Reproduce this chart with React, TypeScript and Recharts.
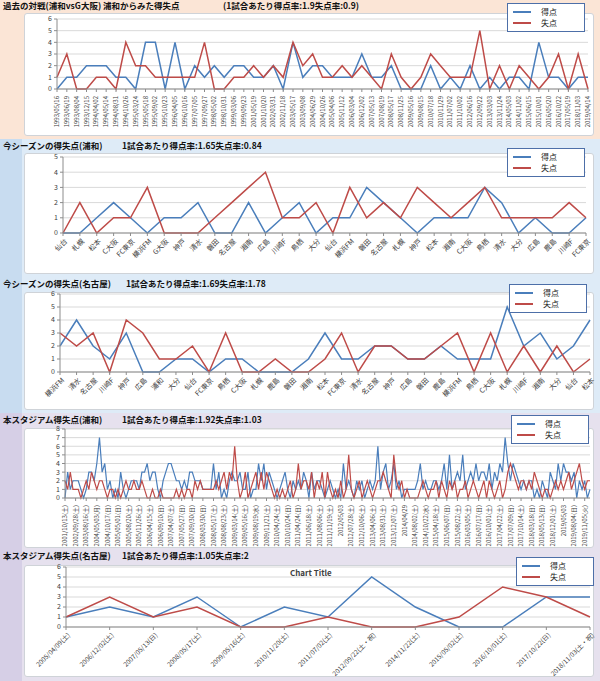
import { LineChart, Line, XAxis, YAxis, CartesianGrid } from "recharts";

const FONT = '"Noto Sans CJK JP", "Noto Sans", sans-serif';
const BLUE = "#4a7ebb";
const RED = "#be4b48";
const GRID = "#d9d9d9";
const AXIS = "#8c8c8c";

const seriesNames = ["得点", "失点"];

// 過去の対戦(浦和vsG大阪)
const h2hDates = [
  "1993/05/16", "1993/06/19", "1993/08/04", "1993/12/15", "1994/04/02", "1994/05/14", "1994/08/31",
  "1994/10/26", "1995/03/24", "1995/05/18", "1995/09/02", "1995/10/23", "1996/04/05", "1996/10/16",
  "1997/07/05", "1997/09/27", "1998/05/02", "1998/10/31", "1999/03/06", "1999/09/23", "2001/05/19",
  "2001/10/20", "2002/03/31", "2002/11/18", "2003/05/17", "2003/09/08", "2004/06/29", "2004/10/26",
  "2005/04/06", "2005/11/12", "2006/03/04", "2006/12/02", "2007/05/13", "2007/08/19", "2008/05/17",
  "2008/11/25", "2009/05/16", "2009/08/15", "2010/07/18", "2010/11/29", "2011/07/02", "2011/10/02",
  "2012/06/16", "2012/09/22", "2013/03/03", "2013/11/24", "2014/05/03", "2014/11/02", "2015/06/15",
  "2015/10/01", "2016/05/20", "2016/10/22", "2017/05/19", "2018/11/03", "2019/04/14",
];
const h2hFor = [
  0, 1, 1, 2, 2, 2, 1, 1, 0, 4, 4, 0, 4, 0, 2, 1, 2, 1, 2, 2, 1, 1, 2, 0, 4, 1, 2, 2,
  1, 1, 1, 3, 1, 1, 2, 0, 0, 0, 2, 0, 1, 0, 2, 0, 1, 0, 1, 1, 0, 4, 1, 1, 0, 1, 1,
];
const h2hAgainst = [
  1, 3, 0, 0, 1, 1, 0, 4, 2, 2, 1, 1, 1, 1, 1, 4, 0, 0, 1, 1, 2, 1, 2, 1, 4, 2, 3, 1,
  1, 2, 1, 2, 1, 0, 3, 1, 0, 1, 3, 2, 1, 1, 1, 5, 0, 2, 0, 2, 1, 0, 1, 3, 0, 3, 0,
];

// 今シーズンの得失点(浦和)
const urawaOpp = [
  "仙台", "札幌", "松本", "C大阪", "FC東京", "横浜FM", "G大阪", "神戸", "清水", "磐田", "名古屋",
  "湘南", "広島", "川崎F", "鳥栖", "大分", "仙台", "横浜FM", "磐田", "名古屋", "札幌", "神戸",
  "松本", "湘南", "C大阪", "鳥栖", "清水", "大分", "広島", "鹿島", "川崎F", "FC東京",
];
const urawaFor = [0, 0, 1, 2, 1, 0, 1, 1, 2, 0, 0, 2, 0, 1, 2, 0, 1, 1, 3, 2, 1, 0, 1, 1, 1, 3, 2, 0, 1, 0, 0, 1];
const urawaAgainst = [0, 2, 0, 1, 1, 3, 0, 0, 0, 1, 2, 3, 4, 1, 1, 2, 0, 3, 1, 2, 1, 3, 2, 1, 2, 3, 1, 1, 1, 1, 2, 1];

// 今シーズンの得失点(名古屋)
const nagoyaOpp = [
  "横浜FM", "清水", "名古屋", "川崎F", "神戸", "広島", "浦和", "大分", "仙台", "FC東京", "鳥栖",
  "C大阪", "札幌", "鹿島", "磐田", "湘南", "松本", "FC東京", "清水", "名古屋", "神戸", "広島",
  "磐田", "鹿島", "横浜FM", "鳥栖", "C大阪", "札幌", "川崎F", "湘南", "大分", "仙台", "松本",
];
const nagoyaFor = [2, 4, 2, 1, 3, 0, 0, 1, 1, 0, 1, 1, 0, 0, 0, 1, 3, 1, 1, 2, 2, 1, 1, 2, 1, 1, 1, 5, 2, 3, 1, 2, 4];
const nagoyaAgainst = [3, 2, 3, 0, 4, 3, 1, 1, 2, 0, 3, 0, 0, 1, 0, 0, 1, 3, 0, 2, 2, 1, 1, 2, 3, 0, 3, 0, 2, 0, 2, 0, 1];

// 本スタジアム得失点(浦和) : tick labels every 4th match
const saitamaTicks = [
  "2001/10/13(土)", "2002/09/28(土)", "2003/08/16(土)", "2004/05/03(月)", "2004/10/17(日)",
  "2005/05/01(日)", "2005/08/20(土)", "2005/11/26(土)", "2006/04/15(土)", "2006/09/10(日)",
  "2007/04/07(土)", "2007/05/27(日)", "2007/09/30(日)", "2008/03/30(日)", "2008/05/17(土)",
  "2008/08/23(土)", "2009/03/14(土)", "2009/05/16(土)", "2009/08/19(水)", "2009/11/21(土)",
  "2010/04/24(土)", "2010/10/24(日)", "2011/04/24(日)", "2011/06/18(土)", "2011/08/06(土)",
  "2011/11/19(土)", "2012/05/03", "2012/07/28(土)", "2012/10/06(土)", "2013/04/06(土)",
  "2013/08/31(土)", "2013/12/07(土)", "2014/04/29", "2014/08/02(土)", "2014/10/22(水)",
  "2015/04/18(土)", "2015/06/07(日)", "2015/08/22(土)", "2016/03/05(土)", "2016/07/17(日)",
  "2016/10/01(土)", "2017/04/22(土)", "2017/07/09(日)", "2017/10/14(土)", "2018/03/18(日)",
  "2018/05/13(日)", "2018/12/01(土)", "2019/05/03", "2019/08/04(日)", "2019/11/05(火)",
];
const saitamaFor = [
  0, 3, 1, 2, 2, 2, 1, 0, 1, 3, 3, 2, 4,
  7, 3, 4, 1, 2, 0, 1, 0, 3, 1, 0, 1, 2,
  2, 2, 1, 3, 3, 4, 2, 3, 3, 1, 0, 2, 3,
  4, 4, 3, 2, 2, 1, 2, 1, 3, 3, 2, 2, 2,
  1, 1, 1, 1, 4, 1, 3, 0, 1, 0, 2, 3, 2,
  2, 3, 1, 1, 3, 0, 1, 1, 4, 2, 4, 1, 3,
  2, 1, 0, 1, 2, 3, 1, 0, 2, 1, 2, 1, 3,
  2, 0, 3, 1, 2, 2, 1, 0, 1, 2, 1, 0, 1,
  0, 4, 1, 2, 1, 0, 2, 1, 2, 0, 1, 2, 1,
  2, 6, 1, 3, 4, 1, 2, 4, 1, 2, 0, 1, 1,
  1, 1, 1, 2, 4, 1, 2, 1, 1, 2, 2, 1, 2,
  4, 1, 5, 1, 2, 3, 2, 5, 1, 2, 3, 2, 4,
  2, 3, 3, 2, 4, 1, 3, 2, 4, 3, 7, 4, 2,
  4, 3, 2, 1, 2, 1, 2, 2, 0, 1, 0, 2, 1,
  0, 3, 2, 1, 4, 2, 4, 3, 3, 2, 3, 0, 2,
  1, 2, 0, 1,
];
const saitamaAgainst = [
  2, 1, 3, 1, 1, 1, 0, 1, 2, 1, 3, 2, 1,
  2, 2, 1, 0, 1, 1, 0, 1, 0, 1, 2, 1, 1,
  2, 1, 1, 2, 1, 0, 0, 1, 0, 0, 1, 0, 0,
  0, 0, 0, 1, 0, 1, 0, 1, 1, 0, 2, 1, 2,
  1, 1, 1, 1, 1, 2, 1, 2, 3, 1, 3, 2, 6,
  2, 0, 1, 3, 0, 1, 2, 3, 1, 3, 1, 3, 2,
  1, 0, 1, 0, 1, 0, 1, 2, 0, 1, 4, 1, 2,
  2, 1, 3, 0, 2, 1, 3, 0, 3, 1, 0, 1, 0,
  2, 0, 1, 5, 1, 0, 1, 2, 0, 1, 2, 1, 0,
  1, 2, 2, 3, 2, 1, 0, 5, 2, 1, 2, 0, 1,
  0, 0, 0, 0, 1, 2, 1, 0, 1, 1, 2, 0, 2,
  1, 0, 2, 1, 2, 0, 1, 1, 2, 0, 1, 2, 1,
  0, 1, 2, 0, 2, 1, 0, 1, 2, 0, 1, 3, 4,
  3, 2, 1, 2, 2, 1, 2, 1, 3, 2, 1, 0, 1,
  1, 0, 1, 2, 1, 2, 1, 2, 3, 1, 2, 3, 4,
  2, 1, 2, 2,
];

// 本スタジアム得失点(名古屋)
const toyotaDates = [
  "2005/04/09(土)", "2006/12/02(土)", "2007/05/13(日)", "2008/05/17(土)", "2009/05/16(土)",
  "2010/11/20(土)", "2011/07/02(土)", "2012/09/22(土・祝)", "2014/11/22(土)", "2015/05/02(土)",
  "2016/10/01(土)", "2017/10/22(日)", "2018/11/03(土・祝)",
];
const toyotaFor = [1, 2, 1, 3, 0, 2, 1, 5, 2, 0, 0, 3, 3];
const toyotaAgainst = [1, 3, 1, 2, 0, 0, 1, 0, 0, 1, 4, 3, 1];

const toRows = (cats: (string | number)[], f: number[], a: number[]) =>
  cats.map((c, i) => ({ cat: c, tokuten: f[i], shitten: a[i] }));

function VTick(props: any) {
  const { x, y, payload, fmt } = props;
  const text = fmt ? fmt(payload.value) : payload.value;
  return (
    <g transform={`translate(${x},${y})`}>
      <text x={-2} y={0} dy="0.35em" transform="rotate(-90)" textAnchor="end"
        fontSize={6} fill="#404040" fontFamily={FONT}>{text}</text>
    </g>
  );
}

function DTick(props: any) {
  const { x, y, payload, size } = props;
  return (
    <g transform={`translate(${x + 3},${y + 2})`}>
      <text x={0} y={0} dy="0.35em" transform="rotate(-45)" textAnchor="end"
        fontSize={size} fill="#404040" fontFamily={FONT}>{payload.value}</text>
    </g>
  );
}

function Legend2({ left, top }: { left: number; top: number }) {
  const colors = [BLUE, RED];
  return (
    <div style={{ position: "absolute", left, top, width: 78, height: 29, background: "#fff",
      border: "1.5px solid #4d6fa8", boxSizing: "border-box", fontFamily: FONT, fontSize: 8, color: "#222" }}>
      {seriesNames.map((t, k) => (
        <div key={t} style={{ position: "absolute", left: 5, top: 3 + k * 11, height: 10,
          display: "flex", alignItems: "center" }}>
          <span style={{ display: "inline-block", width: 18, height: 2.5, background: colors[k] }} />
          <span style={{ marginLeft: 10, lineHeight: "10px" }}>{t}</span>
        </div>
      ))}
    </div>
  );
}

function Title({ top, a, b, bx }: { top: number; a: string; b: string; bx: number }) {
  const st = { position: "absolute" as const, top, fontFamily: FONT, fontSize: 8.5, fontWeight: 700,
    color: "#111", whiteSpace: "nowrap" as const, lineHeight: "11px" };
  return (
    <>
      <div style={{ ...st, left: 3 }}>{a}</div>
      <div style={{ ...st, left: bx }}>{b}</div>
    </>
  );
}

function Panel({ top, height }: { top: number; height: number }) {
  return (
    <div style={{ position: "absolute", left: 24, top, width: 570, height, background: "#fff",
      border: "1px solid #cfd3d8", borderRadius: 3, boxSizing: "border-box" }} />
  );
}

type ChartProps = {
  top: number; height: number; data: any[]; yMax: number;
  margin: { top: number; right: number; left: number; bottom: number };
  xHeight: number; tick: any; interval?: number; stroke?: number;
};

// "top" is the y of the plot's top gridline; the svg starts 10px above it
function Chart({ top, height, data, yMax, margin, xHeight, tick, interval = 0, stroke = 1.5 }: ChartProps) {
  const ticks = Array.from({ length: yMax + 1 }, (_, i) => i);
  return (
    <div style={{ position: "absolute", left: 0, top: top - 10 }}>
      <LineChart width={600} height={height + 10} data={data} margin={{ ...margin, top: 10 }}>
        <CartesianGrid vertical={false} stroke={GRID} />
        <XAxis dataKey="cat" interval={interval} height={xHeight} tick={tick}
          axisLine={{ stroke: AXIS }} tickLine={{ stroke: AXIS }} tickSize={3} />
        <YAxis domain={[0, yMax]} ticks={ticks} width={20} interval={0}
          tick={{ fontSize: 7, fill: "#404040", fontFamily: FONT }}
          axisLine={{ stroke: AXIS }} tickLine={{ stroke: AXIS }} tickSize={3} />
        <Line type="linear" dataKey="tokuten" name={seriesNames[0]} stroke={BLUE} strokeWidth={stroke}
          dot={false} isAnimationActive={false} />
        <Line type="linear" dataKey="shitten" name={seriesNames[1]} stroke={RED} strokeWidth={stroke}
          dot={false} isAnimationActive={false} />
      </LineChart>
    </div>
  );
}

export default function App() {
  const saitamaRows = saitamaFor.map((v, i) => ({ cat: i, tokuten: v, shitten: saitamaAgainst[i] }));
  const saitamaFmt = (i: number) => (i % 4 === 0 ? saitamaTicks[i / 4] ?? "" : "");
  return (
    <div style={{ position: "absolute", left: 0, top: 0, width: 600, height: 681, overflow: "hidden",
      fontFamily: FONT }}>
      {/* backgrounds */}
      <div style={{ position: "absolute", left: 0, top: 0, width: 600, height: 139, background: "#fbe5d6" }} />
      <div style={{ position: "absolute", left: 0, top: 139, width: 600, height: 274, background: "#deebf7" }} />
      <div style={{ position: "absolute", left: 0, top: 139, width: 22, height: 274, background: "#c8dcf0" }} />
      <div style={{ position: "absolute", left: 0, top: 413, width: 600, height: 268, background: "#e6e1ee" }} />
      <div style={{ position: "absolute", left: 0, top: 413, width: 22, height: 268, background: "#d6cfe6" }} />

      <Panel top={13} height={123} />
      <Panel top={153} height={121} />
      <Panel top={292} height={118} />
      <Panel top={428} height={120} />
      <Panel top={565} height={112} />

      <Chart top={19} height={117} data={toRows(h2hDates, h2hFor, h2hAgainst)} yMax={6}
        margin={{ top: 0, right: 12, left: 37, bottom: 2 }} xHeight={45}
        tick={(p: any) => <VTick {...p} />} />
      <Chart top={157} height={115} data={toRows(urawaOpp, urawaFor, urawaAgainst)} yMax={5}
        margin={{ top: 0, right: 14, left: 43, bottom: 3 }} xHeight={36}
        tick={(p: any) => <DTick {...p} size={7} />} />
      <Chart top={294} height={116} data={toRows(nagoyaOpp, nagoyaFor, nagoyaAgainst)} yMax={6}
        margin={{ top: 0, right: 10, left: 40, bottom: 3 }} xHeight={35}
        tick={(p: any) => <DTick {...p} size={7} />} />
      <Chart top={429} height={119} data={saitamaRows} yMax={8}
        margin={{ top: 0, right: 10, left: 45, bottom: 2 }} xHeight={48} interval={3} stroke={1.2}
        tick={(p: any) => <VTick {...p} fmt={saitamaFmt} />} />
      <Chart top={567} height={111} data={toRows(toyotaDates, toyotaFor, toyotaAgainst)} yMax={6}
        margin={{ top: 0, right: 10, left: 46, bottom: 3 }} xHeight={48}
        tick={(p: any) => <DTick {...p} size={6.5} />} />

      <div style={{ position: "absolute", left: 290, top: 567, fontFamily: FONT, fontSize: 8,
        fontWeight: 700, color: "#404040" }}>Chart Title</div>

      <Title top={0} a="過去の対戦(浦和vsG大阪) 浦和からみた得失点" b="(1試合あたり得点率:1.9失点率:0.9)" bx={223} />
      <Title top={140} a="今シーズンの得失点(浦和)" b="1試合あたり得点率:1.65失点率:0.84" bx={122} />
      <Title top={278} a="今シーズンの得失点(名古屋)" b="1試合あたり得点率:1.69失点率:1.78" bx={126} />
      <Title top={414} a="本スタジアム得失点(浦和)" b="1試合あたり得点率:1.92失点率:1.03" bx={122} />
      <Title top={550} a="本スタジアム得失点(名古屋)" b="1試合あたり得点率:1.05失点率:2" bx={122} />

      <Legend2 left={507} top={3} />
      <Legend2 left={507} top={148} />
      <Legend2 left={509} top={284} />
      <Legend2 left={511} top={415} />
      <Legend2 left={516} top={557} />
    </div>
  );
}
